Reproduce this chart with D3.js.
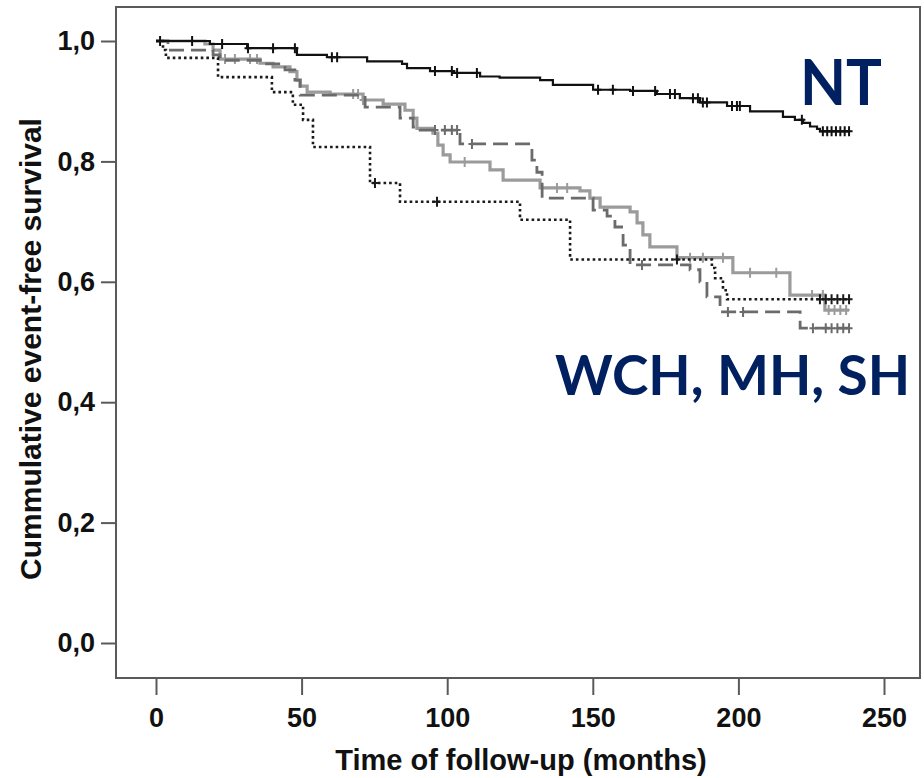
<!DOCTYPE html>
<html>
<head>
<meta charset="utf-8">
<script src="https://cdnjs.cloudflare.com/ajax/libs/d3/7.8.5/d3.min.js"></script>
<style>
  html, body { margin: 0; padding: 0; background: #fff; }
  svg { display: block; }
  text { font-family: "Liberation Sans", Arial, sans-serif; }
</style>
</head>
<body>
<svg id="chart" width="924" height="778"></svg>
<script>
// ---------------- DATA ----------------
const xTicks = [0, 50, 100, 150, 200, 250];
const yTicks = [0, 0.2, 0.4, 0.6, 0.8, 1.0];
const yTickLabels = ["0,0", "0,2", "0,4", "0,6", "0,8", "1,0"];
const xTitle = "Time of follow-up (months)";
const yTitle = "Cummulative event-free survival";
const groupLabels = ["NT", "WCH, MH, SH"];

// NT (black solid)
const ntTimes = [0, 18.5, 31.3, 48.4, 58.7, 72.5, 84.5, 86.2, 94.1, 102.0, 111.3, 118.0, 131.9, 136.3, 150.1, 162.8, 172.0, 179.9, 186.8, 196.1, 204.0, 215.3, 219.4, 222.2, 224.6, 227.0, 228.0];
const ntSurv  = [1.0, 0.995, 0.988, 0.977, 0.973, 0.966, 0.962, 0.955, 0.950, 0.947, 0.941, 0.939, 0.935, 0.927, 0.919, 0.917, 0.912, 0.905, 0.898, 0.892, 0.883, 0.874, 0.869, 0.864, 0.858, 0.854, 0.850];
const ntEnd = 238;
const ntCensor = [1.4, 12.4, 22.7, 31.6, 40.2, 47.7, 60.4, 62.2, 95.8, 101.6, 103.4, 110.2, 151.8, 156.9, 163.8, 171.4, 176.5, 178.2, 184.4, 186.1, 187.8, 189.2, 197.8, 199.5, 200.5, 221.8, 229, 230.5, 232, 233.5, 235, 236.5, 238];

// light grey solid
const lgTimes = [0, 16.8, 19.6, 22.0, 35.7, 40.2, 46.0, 48.4, 49.5, 51.9, 59.8, 71.1, 78.0, 85.5, 88.3, 89.6, 95.1, 96.8, 98.6, 101.0, 114.7, 119.2, 131.9, 145.6, 149.0, 152.5, 162.8, 165.2, 167.2, 169.6, 178.9, 198.1, 217.7, 229.7];
const lgSurv  = [1.0, 0.995, 0.985, 0.970, 0.963, 0.957, 0.949, 0.935, 0.925, 0.915, 0.912, 0.902, 0.895, 0.885, 0.872, 0.855, 0.847, 0.827, 0.811, 0.799, 0.786, 0.769, 0.756, 0.751, 0.739, 0.724, 0.716, 0.698, 0.678, 0.658, 0.640, 0.615, 0.578, 0.553];
const lgEnd = 238;
const lgCensor = [23.7, 27.1, 32.3, 34.7, 67.7, 69.4, 71.1, 106.0, 137.7, 141.2, 183.4, 187.8, 194.7, 204.0, 213.0, 225.3, 229, 231, 233, 235, 237];

// dark grey dashed
const dgTimes = [0, 4.1, 19.6, 22.0, 36.4, 44.3, 47.7, 49.5, 71.8, 83.8, 88.3, 90.7, 104.4, 129.1, 130.8, 132.6, 150.1, 154.9, 157.6, 160.4, 162.8, 183.4, 186.8, 189.2, 193.7, 221.2];
const dgSurv  = [1.0, 0.985, 0.977, 0.968, 0.962, 0.952, 0.935, 0.910, 0.890, 0.872, 0.857, 0.852, 0.829, 0.802, 0.782, 0.739, 0.719, 0.709, 0.691, 0.661, 0.628, 0.620, 0.600, 0.575, 0.550, 0.523];
const dgEnd = 238;
const dgCensor = [95.8, 99.2, 101.6, 103.4, 108.5, 166.9, 196.4, 201.6, 225.6, 230, 232, 234, 236, 238];

// black dotted
const dtTimes = [0, 2.4, 3.4, 21.3, 39.8, 47.0, 50.5, 53.9, 73.5, 83.8, 125.0, 142.2, 190.9, 192.0, 194.7, 196.1];
const dtSurv  = [1.0, 0.985, 0.972, 0.940, 0.915, 0.894, 0.869, 0.824, 0.764, 0.733, 0.703, 0.637, 0.623, 0.606, 0.586, 0.571];
const dtEnd = 238;
const dtCensor = [75.2, 96.5, 178.9, 228, 230, 232, 234, 236, 238];

// ---------------- CHART ----------------
const svg = d3.select("#chart");
const frame = { left: 116, right: 920, top: 7, bottom: 678 };

const x = d3.scaleLinear().domain([0, 250]).range([156, 884]);
const y = d3.scaleLinear().domain([0, 1]).range([643, 41]);

const axisColor = "#5a5a5a";

// frame
svg.append("rect")
  .attr("x", frame.left).attr("y", frame.top)
  .attr("width", frame.right - frame.left)
  .attr("height", frame.bottom - frame.top)
  .attr("fill", "none").attr("stroke", axisColor).attr("stroke-width", 2);

// y axis
const yAxis = svg.append("g")
  .attr("transform", `translate(${frame.left},0)`)
  .call(d3.axisLeft(y).tickValues(yTicks)
    .tickFormat((d, i) => yTickLabels[i]).tickSize(15).tickPadding(6));
yAxis.select(".domain").remove();
yAxis.selectAll(".tick line").attr("stroke", axisColor).attr("stroke-width", 2);
yAxis.selectAll(".tick text")
  .attr("fill", "#111").style("font-size", "27px").style("font-weight", "bold")
  .style("font-family", '"Liberation Sans", Arial, sans-serif');

// x axis
const xAxis = svg.append("g")
  .attr("transform", `translate(0,${frame.bottom})`)
  .call(d3.axisBottom(x).tickValues(xTicks).tickFormat(d3.format("d"))
    .tickSize(17).tickPadding(13));
xAxis.select(".domain").remove();
xAxis.selectAll(".tick line").attr("stroke", axisColor).attr("stroke-width", 2);
xAxis.selectAll(".tick text")
  .attr("fill", "#111").style("font-size", "27px").style("font-weight", "bold")
  .style("font-family", '"Liberation Sans", Arial, sans-serif');

// titles
svg.append("text")
  .attr("x", 521).attr("y", 770)
  .attr("text-anchor", "middle")
  .attr("fill", "#111").style("font-size", "29px").style("font-weight", "bold")
  .text(xTitle);

svg.append("text")
  .attr("transform", "translate(41,349) rotate(-90)")
  .attr("text-anchor", "middle")
  .attr("fill", "#111").style("font-size", "30px").style("font-weight", "bold")
  .text(yTitle);

// KM curves
function stepPoints(times, surv, end) {
  const pts = times.map((t, i) => [t, surv[i]]);
  pts.push([end, surv[surv.length - 1]]);
  return pts;
}
function survAt(times, surv, t) {
  let s = surv[0];
  for (let i = 0; i < times.length; i++) { if (times[i] <= t) s = surv[i]; }
  return s;
}
const line = d3.line().x(d => x(d[0])).y(d => y(d[1])).curve(d3.curveStepAfter);

const series = [
  { times: lgTimes, surv: lgSurv, end: lgEnd, censor: lgCensor, color: "#9b9b9b", width: 3.2, dash: null },
  { times: dgTimes, surv: dgSurv, end: dgEnd, censor: dgCensor, color: "#6b6b6b", width: 2.8, dash: "15,7" },
  { times: dtTimes, surv: dtSurv, end: dtEnd, censor: dtCensor, color: "#1a1a1a", width: 2.6, dash: "2.6,3" },
  { times: ntTimes, surv: ntSurv, end: ntEnd, censor: ntCensor, color: "#111111", width: 2.2, dash: null }
];

series.forEach(s => {
  svg.append("path")
    .datum(stepPoints(s.times, s.surv, s.end))
    .attr("d", line)
    .attr("fill", "none")
    .attr("stroke", s.color)
    .attr("stroke-width", s.width)
    .attr("stroke-dasharray", s.dash);

  svg.append("g").selectAll("path")
    .data(s.censor)
    .join("path")
    .attr("d", t => {
      const cx = x(t), cy = y(survAt(s.times, s.surv, t));
      return `M${cx - 3.5},${cy}H${cx + 3.5}M${cx},${cy - 5}V${cy + 5}`;
    })
    .attr("fill", "none")
    .attr("stroke", s.color)
    .attr("stroke-width", 2);
});

// group annotations
svg.append("text")
  .attr("x", 800).attr("y", 105)
  .attr("fill", "#002060")
  .attr("textLength", 82).attr("lengthAdjust", "spacingAndGlyphs")
  .style("font-family", 'Lato, "Open Sans", sans-serif')
  .style("font-size", "64px").style("font-weight", "bold")
  .text(groupLabels[0]);

svg.append("text")
  .attr("x", 555).attr("y", 395)
  .attr("fill", "#002060")
  .attr("textLength", 355).attr("lengthAdjust", "spacingAndGlyphs")
  .style("font-family", 'Lato, "Open Sans", sans-serif')
  .style("font-size", "55px").style("font-weight", "bold")
  .text(groupLabels[1]);
</script>
</body>
</html>
